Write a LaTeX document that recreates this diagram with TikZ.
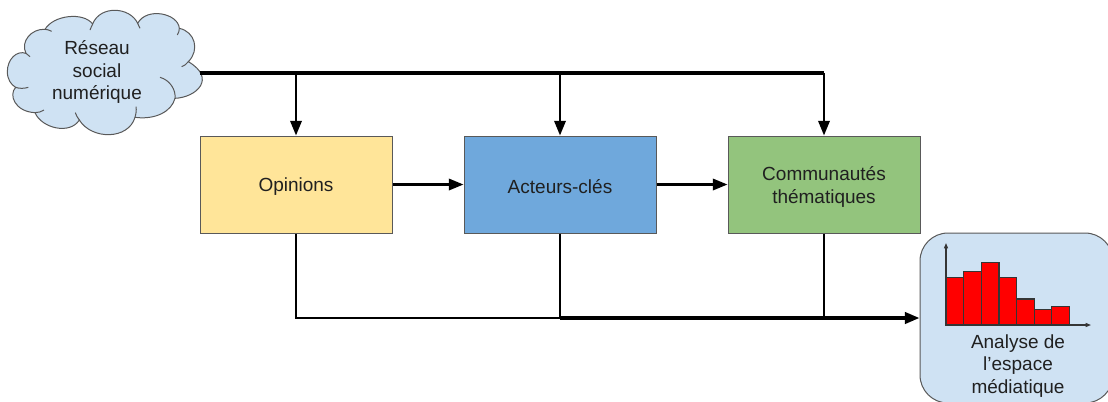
\documentclass[tikz,border=0pt]{standalone}
\usepackage{fontspec}
\setmainfont{Liberation Sans}
\usetikzlibrary{arrows.meta}
\definecolor{tint}{HTML}{CFE2F3}
\definecolor{edgegrey}{HTML}{595959}
\definecolor{ink}{HTML}{202020}
\newcommand\nudged{\rule{0pt}{14pt}}
\tikzset{
  proc/.style={draw=edgegrey,line width=.75pt,minimum width=144pt,minimum height=72.75pt,inner sep=0pt,text=ink,align=center,font=\fontsize{14.25pt}{17pt}\selectfont},
  label/.style={text=ink,align=center,inner sep=0pt,font=\fontsize{14.25pt}{17pt}\selectfont},
  conn/.style={line width=1.8pt,black},
  heavy/.style={line width=2.4pt,black},
  arr/.style={conn,-{Triangle[length=11pt,width=8.5pt]}},
  heavyarr/.style={heavy,-{Triangle[length=11pt,width=8.5pt]}},
  tinyarr/.style={line width=.9pt,edgegrey!60!black,-{Triangle[length=4pt,width=3pt]}},
  bar/.style={draw=edgegrey!60!black,line width=.9pt,fill=red},
  outline/.style={draw=edgegrey,line width=.75pt}
}
\begin{document}
\begin{tikzpicture}[x=.75pt,y=-.75pt]
\useasboundingbox (0,0) rectangle (1108,401);
\clip (0,0) rectangle (1108,401);
% cloud
\begin{scope}[x=.25pt,y=-.25pt]
\draw[outline,fill=tint] (78,160)
  .. controls (50,150) and (22,178) .. (22,215)
  .. controls (22,238) and (33,254) .. (47,262)
  .. controls (25,285) and (45,335) .. (105,338)
  .. controls (125,385) and (210,405) .. (238,360)
  .. controls (275,420) and (385,420) .. (405,352)
  .. controls (465,360) and (515,335) .. (525,295)
  .. controls (590,292) and (650,235) .. (565,185)
  .. controls (600,150) and (585,95) .. (538,85)
  .. controls (535,40) and (440,20) .. (413,70)
  .. controls (390,20) and (300,15) .. (278,72)
  .. controls (250,35) and (160,45) .. (135,88)
  .. controls (95,85) and (60,125) .. (78,160) -- cycle;
\draw[outline] (78,160) .. controls (82,163) and (85,165) .. (90,170);
\draw[outline] (47,262) .. controls (58,266) and (72,266) .. (85,262);
\draw[outline] (105,338) .. controls (115,338) and (125,335) .. (132,330);
\draw[outline] (238,360) .. controls (232,352) and (228,345) .. (226,338);
\draw[outline] (405,352) .. controls (408,342) and (410,330) .. (408,320);
\draw[outline] (525,295) .. controls (528,270) and (510,240) .. (480,232);
\draw[outline] (565,185) .. controls (560,192) and (552,198) .. (545,200);
\draw[outline] (538,85) .. controls (538,92) and (536,98) .. (532,105);
\draw[outline] (413,70) .. controls (416,75) and (418,80) .. (420,85);
\draw[outline] (278,72) .. controls (275,78) and (272,85) .. (270,90);
\draw[outline] (135,88) .. controls (140,88) and (148,90) .. (155,94);
\end{scope}
\node[label] (cloudtext) at (97,72) {Réseau\\social\\numérique};
\coordinate (source) at (200,73);
\coordinate (tapA) at (296,73);
\coordinate (tapB) at (560,73);
\coordinate (tapC) at (824,73);
% boxes
\node[proc,fill={rgb,255:red,255;green,229;blue,153}] (opin) at (296,184.5) {\nudged Opinions};
\node[proc,fill={rgb,255:red,111;green,168;blue,220}] (act) at (560,184.5) {\nudged Acteurs-clés};
\node[proc,fill={rgb,255:red,147;green,196;blue,125}] (comm) at (824,184.5) {\nudged Communautés\\thématiques};
% result
\node[outline,fill=tint,rounded corners=21pt,minimum width=144.75pt,minimum height=127.5pt,inner sep=0pt] (res) at (1016.5,318) {};
\node[label] (restext) at (1018,366) {Analyse de\\l’espace\\médiatique};
% histogram
\coordinate (origin) at (946,325);
\coordinate (yend) at (946,243);
\coordinate (xend) at (1091,325);
\draw[bar] (946,325) rectangle (963.7,277.7);
\draw[bar] (963.7,325) rectangle (981.3,271.3);
\draw[bar] (981.3,325) rectangle (999,262.3);
\draw[bar] (999,325) rectangle (1016.7,277.7);
\draw[bar] (1016.7,325) rectangle (1034.3,299);
\draw[bar] (1034.3,325) rectangle (1051.7,309.7);
\draw[bar] (1051.7,325) rectangle (1069.3,306.3);
\draw[tinyarr] (origin) -- (yend);
\draw[tinyarr] (origin) -- (xend);
% connectors
\coordinate (joinB) at (act.south |- res.west);
\draw[heavy] (source) -- (tapC);
\draw[arr] (tapA) -- (opin.north);
\draw[arr] (tapB) -- (act.north);
\draw[arr] (tapC) -- (comm.north);
\draw[arr] (opin.east) -- (act.west);
\draw[arr] (act.east) -- (comm.west);
\draw[conn] (opin.south) |- (joinB);
\draw[heavyarr] (joinB) -- (res.west);
\draw[conn] (act.south) -- (joinB);
\draw[conn] (comm.south) -- (comm.south |- res.west);
\end{tikzpicture}
\end{document}
